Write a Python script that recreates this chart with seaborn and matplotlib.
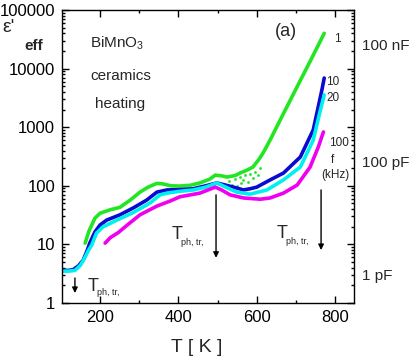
import numpy as np
import pandas as pd
import matplotlib
matplotlib.use("Agg")
import matplotlib.pyplot as plt
from matplotlib.ticker import LogLocator, MultipleLocator, NullFormatter
import seaborn as sns

# ---------------- data ----------------
T_1k = [162, 172, 187, 200, 226, 251, 277, 302, 323, 345, 360, 380, 404, 430, 455,
        480, 494, 510, 524, 545, 557, 575, 590, 605, 616, 634, 660, 700, 740, 772]
eps_1k = [10.5, 17, 28, 34, 39, 43, 57, 78, 95, 110, 108, 100, 99, 102, 112,
          130, 152, 148, 141, 150, 165, 185, 209, 280, 363, 605, 1340, 4500, 15000, 40000]

T_10k = [103, 120, 131, 145, 157, 166, 174, 187, 200, 217, 251, 285, 319, 345, 371,
         400, 438, 470, 498, 520, 540, 566, 583, 600, 634, 668, 711, 744, 766, 772]
eps_10k = [3.6, 3.6, 3.7, 4.3, 5.4, 7.5, 10.6, 16.3, 21.4, 26, 32, 42, 57, 78, 85,
           86, 89, 100, 112, 103, 95, 85, 89, 95, 126, 165, 310, 900, 4300, 6900]

T_20k = [103, 120, 136, 150, 162, 170, 179, 191, 208, 243, 285, 328, 353, 371, 400,
         438, 470, 498, 525, 549, 583, 626, 668, 711, 744, 760, 772]
eps_20k = [3.5, 3.5, 3.6, 4.4, 6.1, 7.8, 9.8, 15.6, 20, 26, 35, 51, 70, 75, 80,
           85, 95, 112, 92, 78, 72, 85, 126, 209, 600, 1700, 3550]

T_100k = [213, 226, 247, 268, 302, 345, 379, 404, 455, 494, 510, 532, 566, 609, 634,
          668, 703, 736, 757, 770]
eps_100k = [10.5, 13, 16, 21, 32, 45, 55, 65, 75, 95, 85, 70, 62, 59, 62,
            75, 103, 209, 460, 830]

# scattered noisy 1 kHz points
T_noise = [530, 538, 545, 550, 556, 560, 566, 571, 577, 583, 590, 596, 602, 607]
eps_noise = [120, 105, 130, 98, 140, 110, 125, 150, 118, 160, 135, 175, 150, 200]

freq_labels = ["1", "10", "20", "100"]
colors = ["#22e622", "#0a0ad0", "#00f0f0", "#f000f0"]

x_ticks = [200, 400, 600, 800]
y_ticks = [1, 10, 100, 1000, 10000, 100000]
y_ticklabels = ["1", "10", "100", "1000", "10000", "100000"]
cap_labels = ["100 nF", "100 pF", "1 pF"]

# ---------------- build table ----------------
frames = []
for lab, T, e in zip(freq_labels, [T_1k, T_10k, T_20k, T_100k],
                     [eps_1k, eps_10k, eps_20k, eps_100k]):
    frames.append(pd.DataFrame({"T": T, "eps": e, "f": lab}))
df = pd.concat(frames, ignore_index=True)

sns.set_style("ticks")
plt.rcParams["font.family"] = ["Liberation Sans", "DejaVu Sans"]
plt.rcParams["mathtext.fontset"] = "custom"
plt.rcParams["mathtext.rm"] = "Liberation Sans"

fig = plt.figure(figsize=(4.11, 3.57), dpi=100)
ax = fig.add_axes([62 / 411, 1 - 303 / 357, (354 - 62) / 411, (303 - 10) / 357])

sns.lineplot(data=df, x="T", y="eps", hue="f", hue_order=freq_labels,
             palette=dict(zip(freq_labels, colors)), sort=False, estimator=None,
             linewidth=2.6, legend=False, ax=ax)
sns.scatterplot(x=T_noise, y=eps_noise, color=colors[0], s=4, linewidth=0, ax=ax)

ax.set_yscale("log")
ax.set_xlim(103, 848)
ax.set_ylim(1, 100000)
ax.set_xticks(x_ticks)
ax.xaxis.set_minor_locator(MultipleLocator(100))
ax.set_yticks(y_ticks)
ax.set_yticklabels(y_ticklabels)
ax.yaxis.set_minor_locator(LogLocator(base=10, subs=np.arange(2, 10), numticks=20))
ax.yaxis.set_minor_formatter(NullFormatter())
ax.tick_params(which="both", direction="in", top=True, right=True,
               labelsize=12, colors="black", width=1)
ax.tick_params(which="major", length=5, pad=5)
ax.tick_params(which="minor", length=2.5)
for s in ax.spines.values():
    s.set_linewidth(1)
    s.set_color("black")

ax.set_xlabel("T [ K ]", fontsize=14)
ax.xaxis.set_label_coords((197 - 62) / 292, (303 - 339) / 293)
ax.set_ylabel("")

# y label at top-left
fig.text(2 / 411, 1 - 32 / 357, "ε'", fontsize=14, va="baseline", ha="left")
fig.text(24 / 411, 1 - 50 / 357, "eff", fontsize=11, weight="bold", va="baseline", ha="left")

# right side capacitance labels
for lab, ypix in zip(cap_labels, [46, 163, 276]):
    fig.text(362 / 411, 1 - ypix / 357, lab, fontsize=11, va="center", ha="left")

# annotations inside axes
fig.text(90 / 411, 1 - 47 / 357, "BiMnO$_{3}$", fontsize=11, va="baseline")
fig.text(90 / 411, 1 - 80 / 357, "ceramics", fontsize=11, va="baseline")
fig.text(95 / 411, 1 - 108 / 357, "heating", fontsize=11, va="baseline")
fig.text(286 / 411, 1 - 32 / 357, "(a)", fontsize=13, va="center", ha="center")

# frequency labels
for lab, (xp, yp) in zip(["1", "10", "20", "100", "f", "(kHz)"],
                         [(337, 39), (333, 82), (333, 98), (339, 143), (332, 160), (335, 175)]):
    fig.text(xp / 411, 1 - yp / 357, lab, fontsize=8.5, va="center", ha="center")

# phase transition arrows and labels
arrows = [(136, 2.67, 1.48), (496, 70, 5.9), (764, 85, 8.0)]
for T, y0, y1 in arrows:
    ax.annotate("", xy=(T, y1), xytext=(T, y0),
                arrowprops=dict(arrowstyle="-|>", lw=1.0, color="black",
                                mutation_scale=8, shrinkA=0, shrinkB=0))

for (xt, yt), (xs, ys) in [((88, 291), (97, 295)), ((172, 239), (181, 245)),
                           ((277, 238), (286, 244))]:
    fig.text(xt / 411, 1 - yt / 357, "T", fontsize=13, va="baseline")
    fig.text(xs / 411, 1 - ys / 357, "ph, tr,", fontsize=6.5, va="baseline")

fig.savefig("out.png", dpi=100)
